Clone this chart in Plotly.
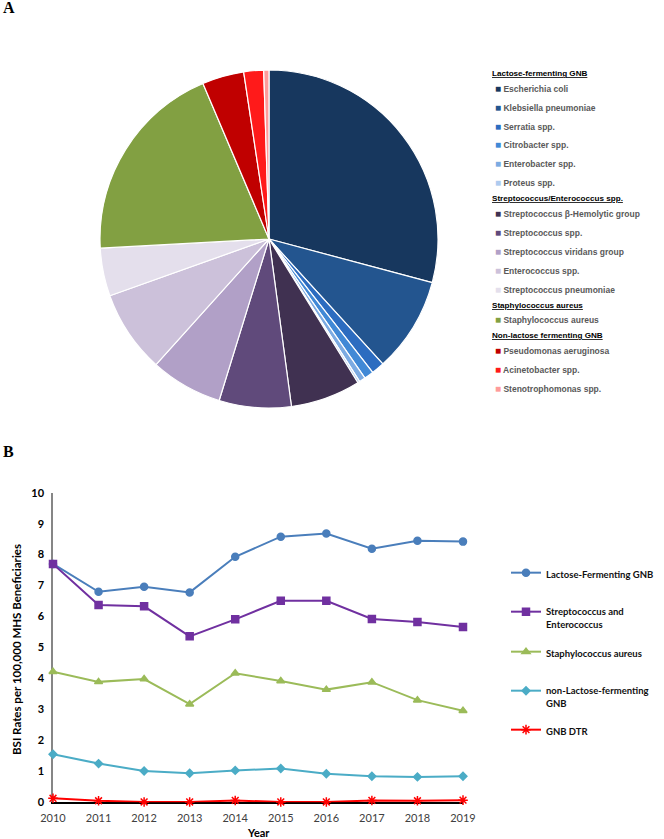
import plotly.graph_objects as go

# ---------------- Data: panel A (pie) ----------------
pie_labels = ["Escherichia coli", "Klebsiella pneumoniae", "Serratia spp.", "Citrobacter spp.",
              "Enterobacter spp.", "Proteus spp.",
              "Streptococcus β-Hemolytic group", "Streptococcus spp.", "Streptococcus viridans group",
              "Enterococcus spp.", "Streptococcus pneumoniae",
              "Staphylococcus aureus",
              "Pseudomonas aeruginosa", "Acinetobacter spp.", "Stenotrophomonas spp."]
pie_values = [29.2, 9.1, 1.25, 0.9, 0.6, 0.2, 6.7, 6.9, 6.9, 7.9, 4.6, 19.5, 4.0, 1.9, 0.5]
pie_colors = ["#17375E", "#23558F", "#2C6CC0", "#4189D6", "#7CABE2", "#AECBEF",
              "#403151", "#604A7B", "#B1A0C7", "#CCC1DA", "#E4DFEC",
              "#82A042",
              "#C00000", "#FF1A1A", "#FF9B9B"]
group_titles = ["Lactose-fermenting GNB", "Streptococcus/Enterococcus spp.",
                "Staphylococcus aureus", "Non-lactose fermenting GNB"]
group_sizes = [6, 5, 1, 3]

# ---------------- Data: panel B (lines) ----------------
years = [2010, 2011, 2012, 2013, 2014, 2015, 2016, 2017, 2018, 2019]
lactose_fermenting = [7.70, 6.80, 6.96, 6.78, 7.93, 8.58, 8.68, 8.19, 8.45, 8.42]
strep_entero = [7.70, 6.37, 6.33, 5.36, 5.91, 6.51, 6.51, 5.92, 5.82, 5.66]
staph_aureus = [4.22, 3.89, 3.98, 3.17, 4.17, 3.92, 3.64, 3.88, 3.30, 2.96]
non_lactose = [1.55, 1.25, 1.01, 0.94, 1.03, 1.09, 0.92, 0.84, 0.82, 0.84]
gnb_dtr = [0.13, 0.05, 0.01, 0.01, 0.06, 0.01, 0.01, 0.06, 0.05, 0.07]
y_ticks = [0, 1, 2, 3, 4, 5, 6, 7, 8, 9, 10]

W, H = 664, 839
def px(x): return x / W
def py(y): return 1 - y / H

fig = go.Figure()

# ---------- Pie ----------
cx, cy, r = 269, 239, 169
fig.add_trace(go.Pie(
    labels=pie_labels, values=pie_values, sort=False, direction="clockwise", rotation=0,
    marker=dict(colors=pie_colors, line=dict(color="white", width=1.2)),
    textinfo="none", hoverinfo="label+percent", showlegend=False,
    domain=dict(x=[px(cx - r), px(cx + r)], y=[py(cy + r), py(cy - r)]),
))

annotations = []
yy = 73
idx = 0
for gi, (title, n) in enumerate(zip(group_titles, group_sizes)):
    if gi > 0:
        yy += 15.5
    annotations.append(dict(x=px(490), y=py(yy), xref="paper", yref="paper",
                            text=f"<u>{title}</u>", showarrow=False,
                            xanchor="left", yanchor="middle",
                            font=dict(family="Liberation Sans", size=8.1, color="#000000", weight="bold")))
    yy += 15
    for k in range(n):
        if k > 0:
            yy += 19
        lab = pie_labels[idx]; col = pie_colors[idx]
        annotations.append(dict(x=px(493), y=py(yy), xref="paper", yref="paper",
                                text=f"<span style='color:{col};font-size:10px'>■</span> {lab}",
                                showarrow=False, xanchor="left", yanchor="middle",
                                font=dict(family="Liberation Sans", size=8.5, color="#595959", weight="bold")))
        idx += 1

# ---------- Lines ----------
series = [
    ("Lactose-Fermenting GNB", lactose_fermenting, "#4A7EBB", "circle", 7),
    ("Streptococcus and<br>Enterococcus", strep_entero, "#7030A0", "square", 7),
    ("Staphylococcus aureus", staph_aureus, "#9BBB59", "triangle-up", 7),
    ("non-Lactose-fermenting<br>GNB", non_lactose, "#4BACC6", "diamond", 6),
    ("GNB DTR", gnb_dtr, "#FF0000", "asterisk-open", 8),
]
legend_y = [572, 611, 651, 690, 729]
legend_font = dict(family="Lato", size=9.5, color="#111111", weight="bold")
for i, (name, vals, col, sym, ms) in enumerate(series):
    lname = "legend" if i == 0 else f"legend{i+1}"
    fig.add_trace(go.Scatter(
        x=years, y=vals, name=name, mode="lines+markers",
        line=dict(color=col, width=2),
        marker=dict(symbol=sym, size=ms, color=col, line=dict(color=col, width=1.5)),
        cliponaxis=False, legend=lname, xaxis="x", yaxis="y",
    ))
    fig.update_layout({lname: dict(x=px(506), y=py(legend_y[i] - 12), xanchor="left", yanchor="top",
                                   valign="top", font=legend_font, bgcolor="rgba(0,0,0,0)",
                                   itemwidth=30, tracegroupgap=0, borderwidth=0)})

fig.update_layout(
    width=W, height=H, autosize=False,
    margin=dict(l=0, r=0, t=0, b=0),
    paper_bgcolor="white", plot_bgcolor="white",
    xaxis=dict(domain=[px(53), px(463)], range=[2010, 2019], tickmode="array", tickvals=years,
               showgrid=False, zeroline=False, showline=True, linecolor="#000000", linewidth=1.5,
               ticks="", ticklabelstandoff=5, automargin=False, layer="below traces",
               tickfont=dict(family="Lato", size=11, color="#404040"),
               anchor="y"),
    yaxis=dict(domain=[py(802.3), py(492.7)], range=[0, 10], tickmode="array", tickvals=y_ticks,
               showgrid=False, zeroline=False, showline=True, linecolor="#868686", linewidth=1.5,
               ticks="", ticklabelstandoff=5, automargin=False, layer="below traces",
               tickfont=dict(family="Lato", size=11, color="#000000", weight="bold"),
               anchor="x"),
)

annotations += [
    dict(x=px(1), y=py(8), xref="paper", yref="paper", text="<b>A</b>", showarrow=False,
         xanchor="left", yanchor="middle", font=dict(family="Liberation Serif", size=16, color="black")),
    dict(x=px(1), y=py(451), xref="paper", yref="paper", text="<b>B</b>", showarrow=False,
         xanchor="left", yanchor="middle", font=dict(family="Liberation Serif", size=16, color="black")),
    dict(x=px(16), y=py(650), xref="paper", yref="paper",
         text="<b>BSI Rates per 100,000 MHS Beneficiaries</b>", showarrow=False, textangle=-90,
         xanchor="center", yanchor="middle", font=dict(family="Lato", size=11.5, color="black")),
    dict(x=px(258), y=py(832), xref="paper", yref="paper", text="<b>Year</b>", showarrow=False,
         xanchor="center", yanchor="middle", font=dict(family="Lato", size=11, color="black")),
]
fig.update_layout(annotations=annotations)

post = (
    "document.body.style.margin='0';"
    "var gd=document.getElementById('{plot_id}');"
    "gd.style.overflow='hidden';"
)
fig.write_html("out.html", config={"displayModeBar": False}, post_script=post)
